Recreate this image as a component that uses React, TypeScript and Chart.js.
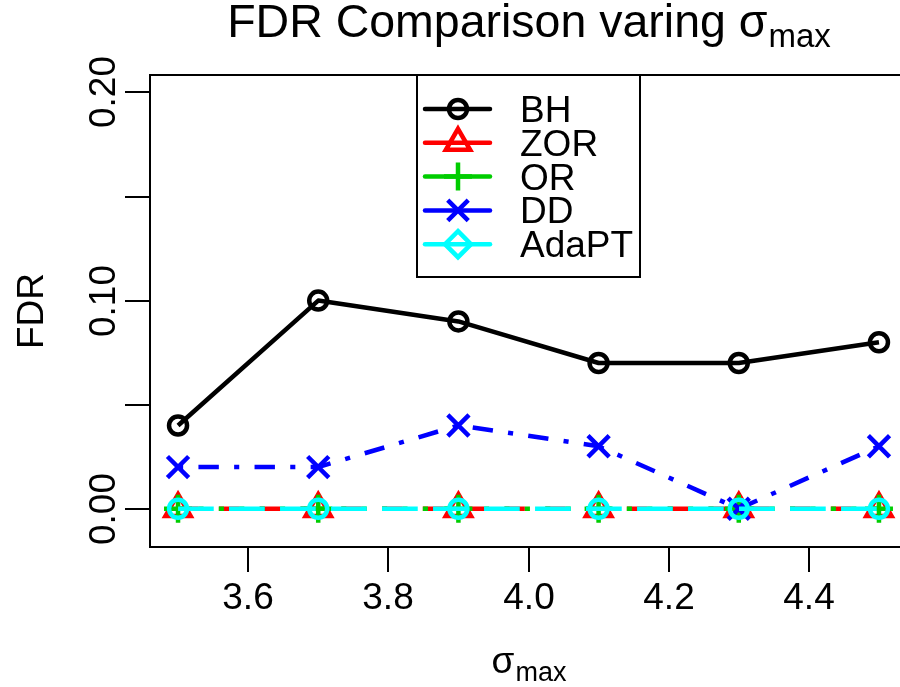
import React, { useEffect, useRef } from "react";
import { Chart, registerables } from "chart.js";

Chart.register(...registerables);

// ---------- data ----------
const xValues = [3.5, 3.7, 3.9, 4.1, 4.3, 4.5];
const bhValues = [0.04, 0.1, 0.09, 0.07, 0.07, 0.08];
const zorValues = [0, 0, 0, 0, 0, 0];
const orValues = [0, 0, 0, 0, 0, 0];
const ddValues = [0.02, 0.02, 0.04, 0.03, 0.0, 0.03];
const adaptValues = [0, 0, 0, 0, 0, 0];

const seriesNames = ["BH", "ZOR", "OR", "DD", "AdaPT"];

const xTicks = [3.6, 3.8, 4.0, 4.2, 4.4];
const xTickLabels = ["3.6", "3.8", "4.0", "4.2", "4.4"];
const yTicks = [0, 0.05, 0.1, 0.15, 0.2];
const yTickLabels = ["0.00", "", "0.10", "", "0.20"];

const titlePrefix = "FDR Comparison varing ";
const greekSymbol = "σ";
const subscriptText = "max";
const yAxisTitle = "FDR";

// ---------- styles ----------
const FONT = "'Liberation Sans', Arial, Helvetica, sans-serif";
const U = 5.1; // R dash unit
const LW = 4.5;

const seriesStyles = [
  { color: "#000000", dash: [] as number[], plotMarker: "circle", legendMarker: "circle", r: 9, lr: 9 },
  { color: "#FF0000", dash: [4 * U, 4 * U], plotMarker: "triangle", legendMarker: "triangle", r: 14.5, lr: 14 },
  { color: "#00CD00", dash: [1 * U, 3 * U], plotMarker: "cross", legendMarker: "cross", r: 14, lr: 14 },
  { color: "#0000FF", dash: [1 * U, 3 * U, 4 * U, 3 * U], plotMarker: "crossRot", legendMarker: "crossRot", r: 15, lr: 14.5 },
  { color: "#00FFFF", dash: [7 * U, 3 * U], plotMarker: "circle", legendMarker: "rectRot", r: 9, lr: 13 },
];

const seriesValues = [bhValues, zorValues, orValues, ddValues, adaptValues];

function drawMarker(ctx: CanvasRenderingContext2D, style: string, x: number, y: number, r: number) {
  ctx.beginPath();
  if (style === "circle") {
    ctx.arc(x, y, r, 0, Math.PI * 2);
  } else if (style === "triangle") {
    for (let i = 0; i < 3; i++) {
      const a = -Math.PI / 2 + (i * 2 * Math.PI) / 3;
      const px = x + Math.cos(a) * r;
      const py = y + Math.sin(a) * r;
      if (i === 0) ctx.moveTo(px, py);
      else ctx.lineTo(px, py);
    }
    ctx.closePath();
  } else if (style === "cross") {
    ctx.moveTo(x - r, y);
    ctx.lineTo(x + r, y);
    ctx.moveTo(x, y - r);
    ctx.lineTo(x, y + r);
  } else if (style === "crossRot") {
    const o = r * Math.SQRT1_2;
    ctx.moveTo(x - o, y - o);
    ctx.lineTo(x + o, y + o);
    ctx.moveTo(x - o, y + o);
    ctx.lineTo(x + o, y - o);
  } else if (style === "rectRot") {
    ctx.moveTo(x, y - r);
    ctx.lineTo(x + r, y);
    ctx.lineTo(x, y + r);
    ctx.lineTo(x - r, y);
    ctx.closePath();
  }
  ctx.stroke();
}

function drawSubscripted(
  ctx: CanvasRenderingContext2D,
  cx: number,
  baseline: number,
  prefix: string,
  greek: string,
  sub: string,
  size: number,
  subSize: number,
  drop: number
) {
  ctx.font = `${size}px ${FONT}`;
  const w1 = ctx.measureText(prefix + greek).width;
  ctx.font = `${subSize}px ${FONT}`;
  const w2 = ctx.measureText(sub).width;
  const start = cx - (w1 + w2) / 2;
  ctx.textAlign = "left";
  ctx.textBaseline = "alphabetic";
  ctx.font = `${size}px ${FONT}`;
  ctx.fillText(prefix + greek, start, baseline);
  ctx.font = `${subSize}px ${FONT}`;
  ctx.fillText(sub, start + w1 + 1, baseline + drop);
}

const rStylePlugin = {
  id: "rStyle",
  afterDatasetsDraw(chart: any) {
    const ctx: CanvasRenderingContext2D = chart.ctx;
    const area = chart.chartArea;
    const xs = chart.scales.x;
    const ys = chart.scales.y;
    ctx.save();
    ctx.setLineDash([]);
    ctx.strokeStyle = "#000";
    ctx.fillStyle = "#000";
    ctx.lineWidth = 2;
    ctx.lineCap = "butt";
    // box
    ctx.strokeRect(area.left, area.top, area.right - area.left, area.bottom - area.top);

    // x ticks
    ctx.font = `37px ${FONT}`;
    ctx.textAlign = "center";
    ctx.textBaseline = "alphabetic";
    xTicks.forEach((v, i) => {
      const px = Math.round(xs.getPixelForValue(v));
      ctx.beginPath();
      ctx.moveTo(px, area.bottom);
      ctx.lineTo(px, area.bottom + 25);
      ctx.stroke();
      ctx.fillText(xTickLabels[i], px, 609);
    });

    // y ticks
    yTicks.forEach((v, i) => {
      const py = Math.round(ys.getPixelForValue(v));
      ctx.beginPath();
      ctx.moveTo(area.left, py);
      ctx.lineTo(area.left - 25, py);
      ctx.stroke();
      if (yTickLabels[i]) {
        ctx.save();
        ctx.translate(115, py);
        ctx.rotate(-Math.PI / 2);
        ctx.textAlign = "center";
        ctx.fillText(yTickLabels[i], 0, 0);
        ctx.restore();
      }
    });

    // y title
    ctx.save();
    ctx.translate(43, (area.top + area.bottom) / 2);
    ctx.rotate(-Math.PI / 2);
    ctx.textAlign = "center";
    ctx.font = `37px ${FONT}`;
    ctx.fillText(yAxisTitle, 0, 0);
    ctx.restore();

    const cx = (area.left + area.right) / 2;
    // x title
    drawSubscripted(ctx, cx, 673, "", greekSymbol, subscriptText, 37, 27, 8);
    // main title
    drawSubscripted(ctx, cx, 37, titlePrefix, greekSymbol, subscriptText, 46.5, 33, 10);

    // legend
    const lx0 = 417, ly0 = area.top, lw = 223, lh = 202;
    ctx.fillStyle = "#fff";
    ctx.fillRect(lx0, ly0, lw, lh);
    ctx.strokeStyle = "#000";
    ctx.lineWidth = 2;
    ctx.strokeRect(lx0, ly0, lw, lh);
    seriesNames.forEach((name, i) => {
      const st = seriesStyles[i];
      const y = 109 + i * 33.8;
      ctx.strokeStyle = st.color;
      ctx.lineWidth = LW;
      ctx.lineCap = "round";
      ctx.beginPath();
      ctx.moveTo(425, y);
      ctx.lineTo(490, y);
      ctx.stroke();
      ctx.lineWidth = 4.5;
      ctx.lineCap = "butt";
      drawMarker(ctx, st.legendMarker, 458, y, st.lr);
      ctx.fillStyle = "#000";
      ctx.font = `37px ${FONT}`;
      ctx.textAlign = "left";
      ctx.textBaseline = "alphabetic";
      ctx.fillText(name, 520, y + 13);
    });
    ctx.restore();
  },
};

export default function App() {
  const canvasRef = useRef<HTMLCanvasElement | null>(null);

  useEffect(() => {
    const canvas = canvasRef.current;
    if (!canvas) return;
    const datasets = seriesNames.map((name, i) => {
      const st = seriesStyles[i];
      return {
        label: name,
        data: xValues.map((x, j) => ({ x, y: seriesValues[i][j] })),
        borderColor: st.color,
        backgroundColor: "rgba(0,0,0,0)",
        borderWidth: LW,
        borderDash: st.dash,
        borderCapStyle: "butt",
        borderJoinStyle: "round",
        tension: 0,
        pointStyle: st.plotMarker,
        pointRadius: st.r,
        pointBorderWidth: 4.5,
        pointBorderColor: st.color,
        pointBackgroundColor: "rgba(0,0,0,0)",
        pointHoverRadius: st.r,
        order: seriesNames.length - 1 - i,
        clip: false,
      };
    });
    const chart = new Chart(canvas, {
      type: "line",
      data: { datasets } as any,
      options: {
        responsive: false,
        maintainAspectRatio: false,
        devicePixelRatio: 1,
        animation: false,
        events: [],
        layout: { padding: { left: 150, right: 13, top: 75, bottom: 140 }, autoPadding: false } as any,
        plugins: {
          legend: { display: false },
          title: { display: false },
          tooltip: { enabled: false },
        },
        scales: {
          x: { type: "linear", min: 3.46, max: 4.54, display: false },
          y: { type: "linear", min: -0.0184, max: 0.2084, display: false },
        },
      } as any,
      plugins: [rStylePlugin],
    });
    return () => chart.destroy();
  }, []);

  return (
    <div
      style={{
        position: "fixed",
        left: 0,
        top: 0,
        width: 900,
        height: 687,
        overflow: "hidden",
        background: "#fff",
      }}
    >
      <canvas ref={canvasRef} width={920} height={687} style={{ display: "block" }} />
    </div>
  );
}
